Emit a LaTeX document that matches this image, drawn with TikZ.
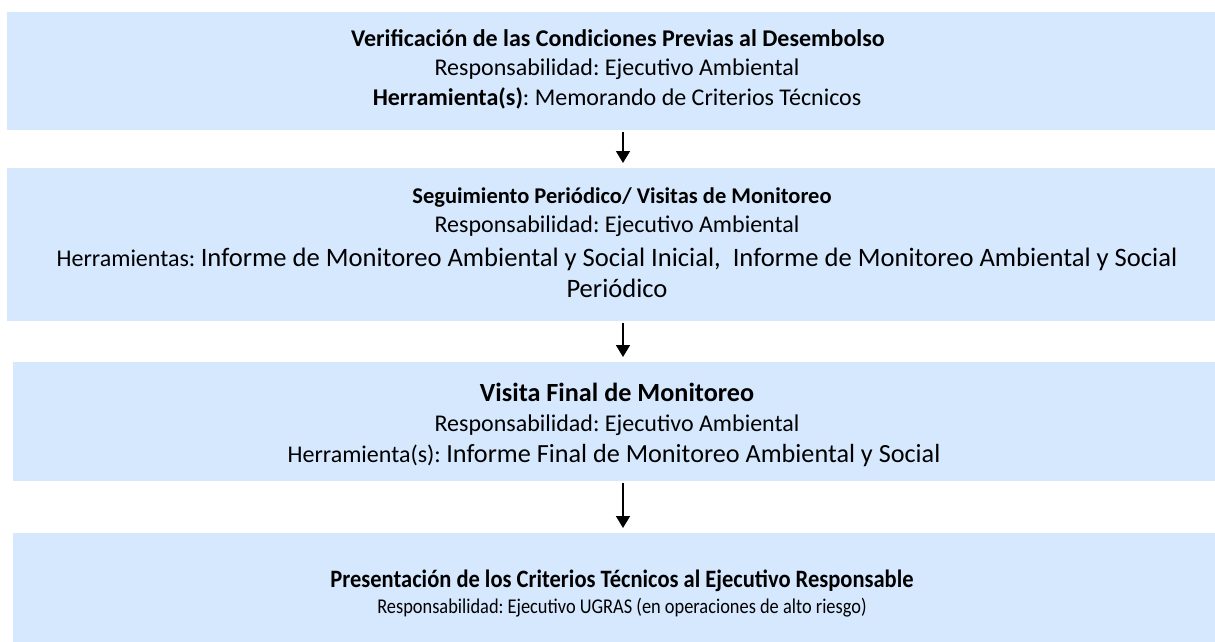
\documentclass[tikz,border=0pt]{standalone}
\usepackage{fontspec}
\setmainfont{Carlito}
\usetikzlibrary{arrows.meta}
\definecolor{boxblue}{RGB}{214,232,254}
\newcommand\fsS{\fontsize{24}{28}\selectfont}
\newcommand\fsT{\fontsize{22.5}{26}\selectfont}
\newcommand\fsM{\fontsize{26.2}{30}\selectfont}
\newcommand\fsL{\fontsize{26.6}{30}\selectfont}
\newcommand\fsP{\fontsize{25}{28}\selectfont}
\newcommand\fsR{\fontsize{21}{24}\selectfont}
\frenchspacing
\begin{document}
\frenchspacing
\begin{tikzpicture}[x=1pt,y=-1pt,
  panel/.style={fill=boxblue,draw=none,inner sep=0pt,outer sep=0pt},
  txt/.style={anchor=base,inner sep=0pt,outer sep=0pt,text=black,execute at begin node=\frenchspacing},
  arr/.style={line width=1.6pt,-{Triangle[width=14pt,length=12pt]},shorten <=2pt,shorten >=5pt}]
\useasboundingbox (0,0) rectangle (1215,642);
\fill[white] (0,0) rectangle (1215,642);
% boxes
\node[panel,minimum width=1208pt,minimum height=118pt,anchor=north west] (b1) at (7,12) {};
\node[panel,minimum width=1208pt,minimum height=153pt,anchor=north west] (b2) at (7,168) {};
\node[panel,minimum width=1202pt,minimum height=119pt,anchor=north west] (b3) at (13,362) {};
\node[panel,minimum width=1202pt,minimum height=109pt,anchor=north west] (b4) at (13,533) {};
% texts box 1
\node[txt] (t1a) at (618,47) {\fsS\bfseries Verificación de las Condiciones Previas al Desembolso};
\node[txt] (t1b) at (617,76) {\fsS Responsabilidad: Ejecutivo Ambiental};
\node[txt] (t1c) at (617,105) {\fsS\textbf{Herramienta(s)}: Memorando de Criterios Técnicos};
% texts box 2
\node[txt] (t2a) at (622,203) {\fsT\bfseries Seguimiento Periódico/ Visitas de Monitoreo};
\node[txt] (t2b) at (617,232) {\fsS Responsabilidad: Ejecutivo Ambiental};
\node[txt] (t2c) at (617,266) {\fsS Herramientas: \fsL Informe de Monitoreo Ambiental y Social Inicial,\ \ Informe de Monitoreo Ambiental y Social};
\node[txt] (t2d) at (617,297) {\fsL Periódico};
% texts box 3
\node[txt] (t3a) at (617,401) {\fsM\bfseries Visita Final de Monitoreo};
\node[txt] (t3b) at (617,431) {\fsS Responsabilidad: Ejecutivo Ambiental};
\node[txt] (t3c) at (614,462) {\fsS Herramienta(s): \fsM Informe Final de Monitoreo Ambiental y Social};
% texts box 4
\node[txt,xscale=0.9] (t4a) at (622,587) {\fsP\bfseries Presentación de los Criterios Técnicos al Ejecutivo Responsable};
\node[txt,xscale=0.875] (t4b) at (622,613) {\fsR Responsabilidad: Ejecutivo UGRAS (en operaciones de alto riesgo)};
% arrows
\coordinate (ax) at (623,0);
\draw[arr] (b1.south -| ax) -- (b2.north -| ax);
\draw[arr] (b2.south -| ax) -- (b3.north -| ax);
\draw[arr] (b3.south -| ax) -- (b4.north -| ax);
\end{tikzpicture}
\end{document}
